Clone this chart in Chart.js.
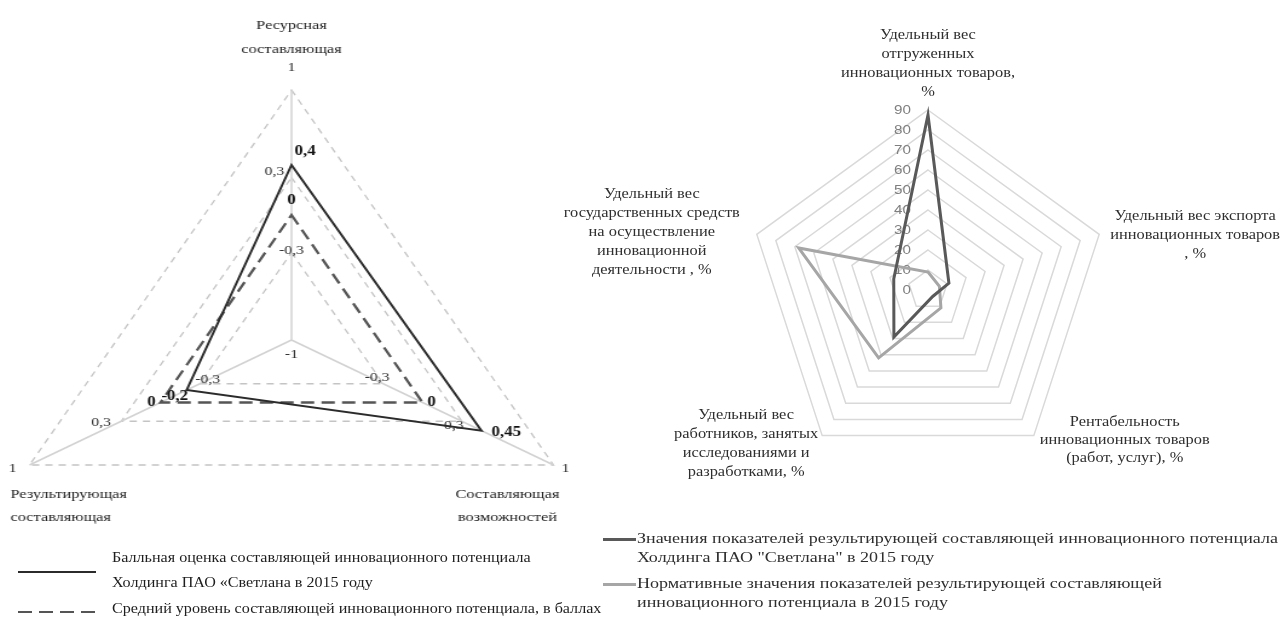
<!DOCTYPE html>
<html><head><meta charset="utf-8">
<script src="https://cdn.jsdelivr.net/npm/chart.js@4.4.0/dist/chart.umd.min.js"></script>
<style>
html,body{margin:0;padding:0;background:#fff;}
body{width:1284px;height:620px;position:relative;overflow:hidden;font-family:'Liberation Serif','Times New Roman',serif;}
#leftWrap{position:absolute;left:-11px;top:0;width:500px;height:620px;transform:scaleX(1.21);transform-origin:0 0;}
#rightWrap{position:absolute;left:540px;top:0;width:744px;height:620px;}
.sw{position:absolute;}
.lt{position:absolute;white-space:nowrap;transform-origin:0 0;}
</style></head><body>
<div id="leftWrap"><canvas id="left" width="500" height="620"></canvas></div>
<div id="rightWrap"><canvas id="right" width="744" height="620"></canvas></div>
<div id="legends"></div>
<script>
// ---------- DATA: left chart ----------
const leftCategories = [['Ресурсная', 'составляющая'], ['Составляющая', 'возможностей'], ['Результирующая', 'составляющая']];
const leftScoreValues = [0.4, 0.45, -0.2];
const leftAverageValues = [0, 0, 0];
const leftSeriesNames = [
  'Балльная оценка составляющей инновационного потенциала\nХолдинга ПАО «Светлана в 2015 году',
  'Средний уровень составляющей инновационного потенциала, в баллах'
];
const leftTickValues = [-1, -0.3, 0.3, 1];
const leftTickLabels = ['-1', '-0,3', '0,3', '1'];

// ---------- DATA: right chart ----------
const rightCategories = [
  ['Удельный вес', 'отгруженных', 'инновационных товаров,', '%'],
  ['Удельный вес экспорта', 'инновационных товаров', ', %'],
  ['Рентабельность', 'инновационных товаров', '(работ, услуг), %'],
  ['Удельный вес', 'работников, занятых', 'исследованиями и', 'разработками, %'],
  ['Удельный вес', 'государственных средств', 'на осуществление', 'инновационной', 'деятельности , %']
];
const rightCompanyValues = [87.5, 11, 4, 29, 18];
const rightNormValues = [9, 6, 11, 42, 68];
const rightSeriesNames = [
  'Значения показателей результирующей составляющей инновационного потенциала\nХолдинга ПАО "Светлана" в 2015 году',
  'Нормативные значения показателей результирующей составляющей\nинновационного потенциала в 2015 году'
];
const rightTickValues = [0, 10, 20, 30, 40, 50, 60, 70, 80, 90];
const rightTickLabels = ['0', '10', '20', '30', '40', '50', '60', '70', '80', '90'];

// ---------- STYLES ----------
const SXL = 1.21;          // horizontal stretch of the left picture
const TXT_SX = 1.17;       // horizontal stretch of right-side texts
const SERIF = "'Liberation Serif','Times New Roman',serif";
const LEFT_CAT_STYLE = [
  {h: 'center', v: 'top', dx: 0, dy: -65, lh: 24},
  {h: 'center', v: 'top', dx: -46, dy: 29, lh: 23},
  {h: 'left', v: 'top', dx: -19, dy: 29, lh: 23}
];
// offsets (display px) per axis, per tick value index
const LEFT_TICK_OFFSETS = [
  [[0, 15], [0, -2], [-17, -6], [0, -22]],
  [[0, 0], [-6, -6], [-8, 4], [12, 4]],
  [[0, 0], [8, -4], [-20, 1], [-17, 4]]
];
const LEFT_VALUE_OFFSETS = [
  [[3, -14, 'left'], [10, 2, 'left'], [-12, 6, 'center']],
  [[0, -15, 'center'], [9, 0, 'center'], [-9, 0, 'center']]
];
const RIGHT_CAT_STYLE = [
  {h: 'center', v: 'bottom', dx: 0, dy: -18, lh: 19},
  {h: 'blockLeft', v: 'middle', dx: 11, dy: 1, lh: 19},
  {h: 'blockLeft', v: 'middle', dx: 6, dy: 5, lh: 18},
  {h: 'blockRight', v: 'middle', dx: -4, dy: 8, lh: 19},
  {h: 'blockRight', v: 'middle', dx: -17, dy: -2, lh: 19}
];

function fmt(v) { return String(v).replace('.', ','); }

function drawLines(ctx, lines, ax, ay, st, font, color, stretch) {
  ctx.save();
  ctx.font = font; ctx.fillStyle = color; ctx.textBaseline = 'middle';
  const bw = Math.max(...lines.map(l => ctx.measureText(l).width * stretch));
  const n = lines.length, lh = st.lh;
  let y0 = ay + st.dy;
  if (st.v === 'bottom') y0 -= (n - 1) * lh;
  else if (st.v === 'middle') y0 -= (n - 1) * lh / 2;
  const x = ax + st.dx;
  lines.forEach((l, i) => {
    let lx = x, align = st.h;
    if (st.h === 'blockLeft') { lx = x + bw / 2; align = 'center'; }
    else if (st.h === 'blockRight') { lx = x - bw / 2; align = 'center'; }
    ctx.save();
    ctx.translate(lx, y0 + i * lh);
    ctx.scale(stretch, 1);
    ctx.textAlign = align;
    ctx.fillText(l, 0, 0);
    ctx.restore();
  });
  ctx.restore();
}

// ---------- LEFT CHART ----------
const leftPlugin = {
  id: 'leftTexts',
  afterDatasetsDraw(chart) {
    const s = chart.scales.r, ctx = chart.ctx;
    ctx.save();
    ctx.textBaseline = 'middle';
    ctx.fillStyle = '#2a2a2a';
    ctx.font = '13px ' + SERIF;
    ctx.textAlign = 'center';
    leftTickValues.forEach((v, k) => {
      for (let i = 0; i < leftCategories.length; i++) {
        if (v === s.min && i > 0) continue;
        const p = s.getPointPositionForValue(i, v);
        const o = LEFT_TICK_OFFSETS[i][k];
        ctx.fillText(leftTickLabels[k], p.x + o[0] / SXL, p.y + o[1]);
      }
    });
    ctx.font = 'bold 14px ' + SERIF;
    ctx.fillStyle = '#111';
    chart.data.datasets.forEach((ds, d) => {
      ds.data.forEach((v, i) => {
        const p = s.getPointPositionForValue(i, v);
        const o = LEFT_VALUE_OFFSETS[d][i];
        ctx.textAlign = o[2];
        ctx.fillText(fmt(v), p.x + o[0] / SXL, p.y + o[1]);
      });
    });
    ctx.restore();
    leftCategories.forEach((lines, i) => {
      const p = s.getPointPositionForValue(i, s.max);
      const st = Object.assign({}, LEFT_CAT_STYLE[i]);
      st.dx = st.dx / SXL;
      drawLines(ctx, lines, p.x, p.y, st, '13.5px ' + SERIF, '#1e1e1e', 1);
    });
  }
};

const leftChart = new Chart(document.getElementById('left'), {
  type: 'radar',
  data: {
    labels: leftCategories,
    datasets: [
      {label: leftSeriesNames[0], data: leftScoreValues, borderColor: '#2b2b2b', borderWidth: 2, fill: false, pointRadius: 0},
      {label: leftSeriesNames[1], data: leftAverageValues, borderColor: '#555', borderWidth: 2.3, borderDash: [11, 6], fill: false, pointRadius: 0}
    ]
  },
  options: {
    responsive: false, animation: false, devicePixelRatio: 1,
    layout: {padding: {left: 0, right: 0, top: 90, bottom: 30}},
    elements: {line: {tension: 0, borderJoinStyle: 'miter'}},
    plugins: {legend: {display: false}, tooltip: {enabled: false}},
    scales: {
      r: {
        min: -1, max: 1,
        afterBuildTicks: (scale) => { scale.ticks = leftTickValues.map(v => ({value: v})); },
        ticks: {display: false},
        pointLabels: {display: false},
        grid: {color: '#c4c4c4', lineWidth: 1.3},
        border: {dash: [6, 5]},
        angleLines: {display: true, color: '#d2d2d2', lineWidth: 1.5}
      }
    }
  },
  plugins: [leftPlugin]
});

// ---------- RIGHT CHART ----------
const rightPlugin = {
  id: 'rightTexts',
  beforeDatasetsDraw(chart) {
    const s = chart.scales.r, ctx = chart.ctx;
    ctx.save();
    ctx.font = "13px 'Liberation Sans',Arial,sans-serif";
    ctx.fillStyle = '#7f7f7f';
    ctx.textBaseline = 'middle';
    ctx.textAlign = 'right';
    rightTickValues.forEach((v, k) => {
      const p = s.getPointPositionForValue(0, v);
      ctx.save();
      ctx.translate(p.x - 17, p.y);
      ctx.scale(TXT_SX, 1);
      ctx.fillText(rightTickLabels[k], 0, 0);
      ctx.restore();
    });
    ctx.restore();
  },
  afterDraw(chart) {
    const s = chart.scales.r, ctx = chart.ctx;
    rightCategories.forEach((lines, i) => {
      const p = s.getPointPositionForValue(i, s.max);
      drawLines(ctx, lines, p.x, p.y, RIGHT_CAT_STYLE[i], '14px ' + SERIF, '#2e2e2e', TXT_SX);
    });
  }
};

const rightChart = new Chart(document.getElementById('right'), {
  type: 'radar',
  data: {
    labels: rightCategories,
    datasets: [
      {label: rightSeriesNames[0], data: rightCompanyValues, borderColor: '#595959', borderWidth: 3, fill: false, pointRadius: 0},
      {label: rightSeriesNames[1], data: rightNormValues, borderColor: '#a6a6a6', borderWidth: 3, fill: false, pointRadius: 0}
    ]
  },
  options: {
    responsive: false, animation: false, devicePixelRatio: 1,
    layout: {padding: {left: 208, right: 176, top: 110, bottom: 150}},
    elements: {line: {tension: 0, borderJoinStyle: 'miter'}},
    plugins: {legend: {display: false}, tooltip: {enabled: false}},
    scales: {
      r: {
        min: 0, max: 90,
        ticks: {display: false, stepSize: 10},
        pointLabels: {display: false},
        grid: {color: '#d9d9d9', lineWidth: 1.5},
        angleLines: {display: false}
      }
    }
  },
  plugins: [rightPlugin]
});

// ---------- LEGENDS (HTML) ----------
const legendBox = document.getElementById('legends');
function addSwatch(left, top, width, height, bg) {
  const d = document.createElement('div');
  d.className = 'sw';
  Object.assign(d.style, {left: left + 'px', top: top + 'px', width: width + 'px', height: height + 'px', background: bg});
  legendBox.appendChild(d);
}
function addText(left, top, text, size, lh, sx, color) {
  const d = document.createElement('div');
  d.className = 'lt';
  Object.assign(d.style, {left: left + 'px', top: top + 'px', fontSize: size + 'px', lineHeight: lh + 'px', transform: 'scaleX(' + sx + ')', color: color});
  text.split('\n').forEach((line, i) => {
    if (i) d.appendChild(document.createElement('br'));
    d.appendChild(document.createTextNode(line));
  });
  legendBox.appendChild(d);
}
// left legend
const lds = leftChart.data.datasets;
addSwatch(18, 571, 78, 2, lds[0].borderColor);
addText(112, 545, lds[0].label, 14, 25, 1.15, '#1e1e1e');
addSwatch(18, 611, 78, 2, 'repeating-linear-gradient(to right,' + lds[1].borderColor + ' 0 14px, transparent 14px 21px)');
addText(112, 596, lds[1].label, 14, 25, 1.15, '#1e1e1e');
// right legend
const rds = rightChart.data.datasets;
addSwatch(603, 538, 33, 3, rds[0].borderColor);
addText(637, 529, rds[0].label, 15, 19, 1.2, '#2e2e2e');
addSwatch(603, 583, 33, 3, rds[1].borderColor);
addText(637, 574, rds[1].label, 15, 19, 1.2, '#2e2e2e');
</script>
</body></html>
